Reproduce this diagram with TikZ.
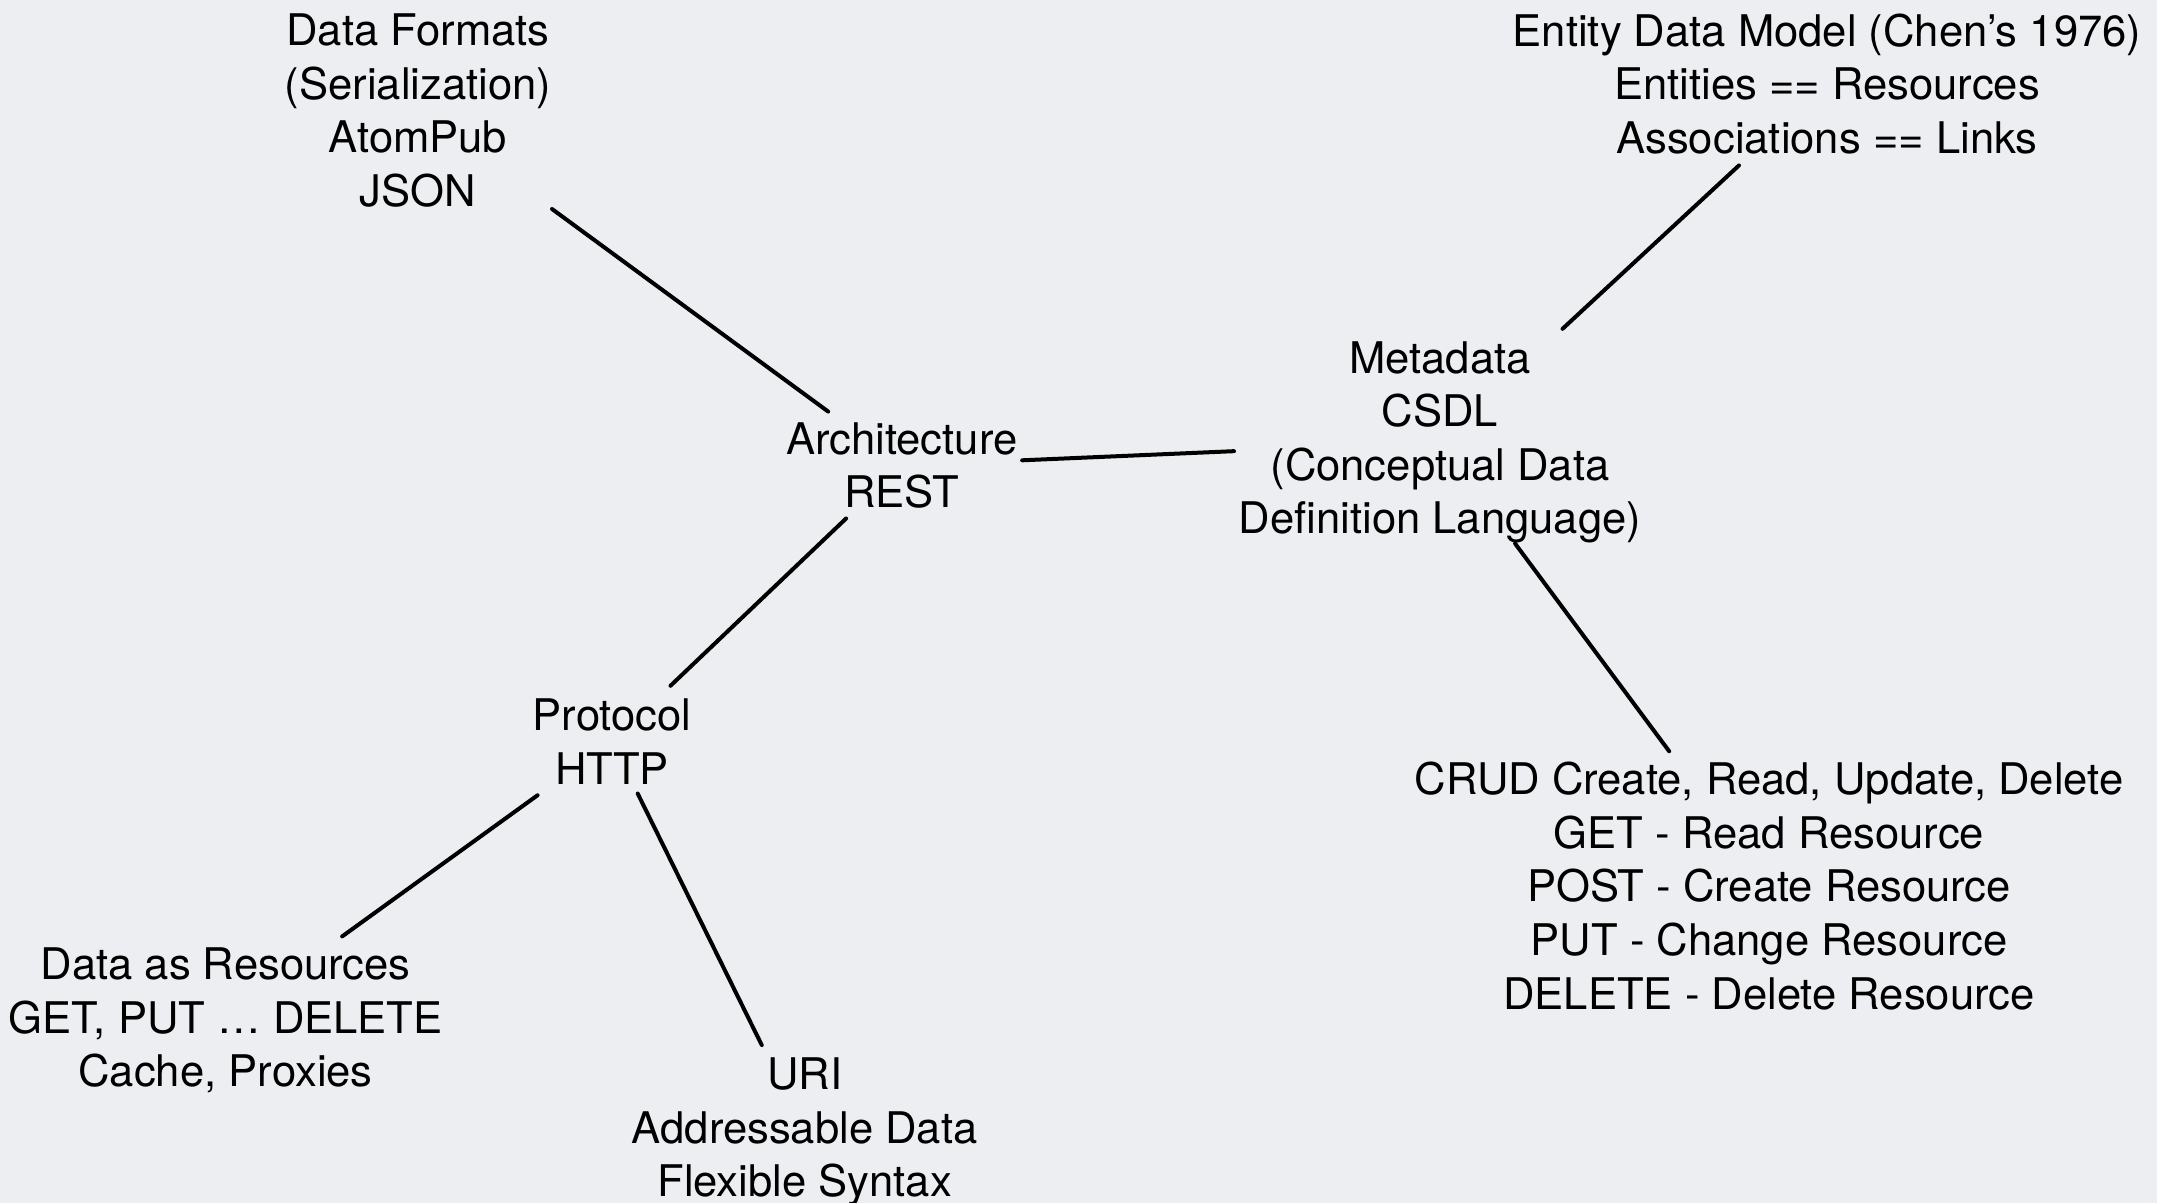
\documentclass[tikz,border=0pt]{standalone}
\usepackage{fontspec}
\setmainfont{TeX Gyre Heros}
\definecolor{bg}{RGB}{237,238,241}
\begin{document}
\begin{tikzpicture}[x=0.5pt,y=-0.5pt,
  lbl/.style={align=center,inner sep=0pt,font=\fontsize{21.8}{26.8}\selectfont},
  conn/.style={line width=2pt,line cap=round}]
\fill[bg] (0,0) rectangle (2157,1203);
\useasboundingbox (0,0) rectangle (2157,1203);
\node[lbl] (df) at (418,110.7) {Data Formats\\(Serialization)\\AtomPub\\JSON};
\node[lbl] (ent) at (1827,83.9) {Entity Data Model (Chen’s 1976)\\Entities == Resources\\Associations == Links};
\node[lbl] (arch) at (901.7,465.5) {Architecture\\REST};
\node[lbl] (meta) at (1440,442.3) {Metadata\\CSDL\\(Conceptual Data\\Definition Language)};
\node[lbl] (prot) at (612,741.5) {Protocol\\HTTP};
\node[lbl] (crud) at (1769,885.9) {CRUD Create, Read, Update, Delete\\GET - Read Resource\\POST - Create Resource\\PUT - Change Resource\\DELETE - Delete Resource};
\node[lbl] (dres) at (225.6,1020.6) {Data as Resources\\GET, PUT … DELETE\\Cache, Proxies};
\node[lbl] (uri) at (804.7,1132.1) {URI\\Addressable Data\\Flexible Syntax};
\draw[conn,shorten <=83.1pt,shorten >=45.6pt] (df.center) -- (arch.center);
\draw[conn,shorten <=60pt,shorten >=83.5pt] (ent.center) -- (meta.center);
\draw[conn,shorten <=60.3pt,shorten >=103.1pt] (arch.center) -- (meta.center);
\draw[conn,shorten <=38.4pt,shorten >=40.4pt] (arch.center) -- (prot.center);
\draw[conn,shorten <=63pt,shorten >=83.8pt] (meta.center) -- (crud.center);
\draw[conn,shorten <=45.9pt,shorten >=71.9pt] (prot.center) -- (dres.center);
\draw[conn,shorten <=29pt,shorten >=48.5pt] (prot.center) -- (uri.center);
\end{tikzpicture}
\end{document}
